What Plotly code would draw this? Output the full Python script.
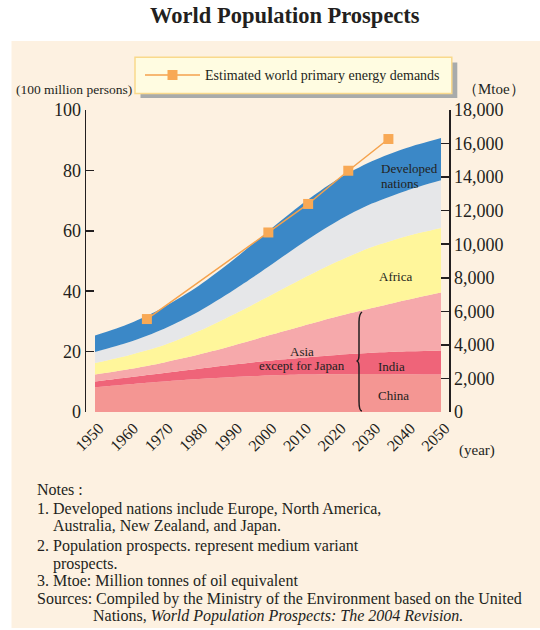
import plotly.graph_objects as go

# ---------------- data ----------------
years = [1950, 1960, 1970, 1980, 1990, 2000, 2010, 2020, 2030, 2040, 2050]
year_labels = [str(y) for y in years]
# population, 100 million persons (stacked from bottom)
china = [8.2, 9.2, 10.1, 10.9, 11.6, 12.1, 12.4, 12.5, 12.6, 12.5, 12.4]
india = [1.9, 2.3, 2.8, 3.4, 4.1, 4.9, 5.6, 6.4, 7.0, 7.6, 8.0]
asia_ex_japan = [2.3, 2.7, 3.5, 4.7, 6.3, 8.3, 10.5, 12.7, 14.8, 17.0, 19.2]
africa = [3.8, 4.7, 5.8, 7.8, 10.3, 12.9, 15.7, 18.2, 20.2, 21.1, 21.3]
other_regions = [3.7, 4.3, 5.4, 6.5, 8.0, 9.8, 11.8, 13.4, 14.4, 15.1, 15.8]
developed = [5.4, 6.1, 7.2, 8.5, 10.1, 11.8, 13.0, 13.8, 14.0, 14.1, 14.0]

# estimated world primary energy demands (Mtoe), positions as drawn
energy_years = [1965.0, 2000.1, 2011.6, 2023.2, 2034.8]
energy_mtoe = [5540, 10700, 12400, 14380, 16270]

left_ticks = [0, 20, 40, 60, 80, 100]
right_ticks = [0, 2000, 4000, 6000, 8000, 10000, 12000, 14000, 16000, 18000]

# ---------------- styling ----------------
SERIF = "Liberation Serif, Times New Roman, serif"
INK = "#231f20"
W, H = 540, 630
ML, MR, MT, MB = 86, 91, 110, 218
PW, PH = W - ML - MR, H - MT - MB


def xp(px):
    return (px - ML) / PW


def yp(py):
    return (H - MB - py) / PH


fig = go.Figure()

bands = [
    ("China", china, "#F49693"),
    ("India", india, "#EF6479"),
    ("Asia except for Japan", asia_ex_japan, "#F6A9AB"),
    ("Africa", africa, "#FFF69B"),
    ("Other regions", other_regions, "#E6E7E9"),
    ("Developed nations", developed, "#3B88C7"),
]
for name, vals, col in bands:
    fig.add_trace(go.Scatter(
        x=years, y=vals, name=name, stackgroup="pop", mode="lines",
        line=dict(width=0, shape="spline", smoothing=0.8, color=col),
        fillcolor=col, showlegend=False, hoverinfo="skip"))

fig.add_trace(go.Scatter(
    x=energy_years, y=energy_mtoe, yaxis="y2", mode="lines+markers",
    name="Estimated world primary energy demands",
    line=dict(color="#F5A24C", width=1.5),
    marker=dict(symbol="square", size=10, color="#F8A955"),
    showlegend=True, hoverinfo="skip"))

axis_common = dict(showgrid=False, zeroline=False, ticks="inside", ticklen=8,
                   tickwidth=1.5, tickcolor=INK, showline=True, linewidth=1.5,
                   linecolor=INK, tickfont=dict(family=SERIF, size=18, color=INK))

fig.update_layout(
    width=W, height=H,
    margin=dict(l=ML, r=MR, t=MT, b=MB, pad=0),
    paper_bgcolor="white", plot_bgcolor="rgba(0,0,0,0)",
    hovermode=False,
    xaxis=dict(range=[1947.4, 2052.31], tickvals=years, ticktext=year_labels,
               tickangle=-45, showline=False, ticks="", showgrid=False,
               zeroline=False, ticklabelshift=4, ticklabelstandoff=3,
               tickfont=dict(family=SERIF, size=16, color=INK)),
    yaxis=dict(range=[0, 100], tickvals=left_ticks, **axis_common),
    yaxis2=dict(range=[0, 18000], tickvals=right_ticks, tickformat=",",
                overlaying="y", side="right", **axis_common),
    legend=dict(x=xp(140), y=yp(75.3), xanchor="left", yanchor="middle",
                bgcolor="rgba(0,0,0,0)", borderwidth=0, itemwidth=55,
                font=dict(family=SERIF, size=14, color=INK)),
    showlegend=True,
)

shapes = [
    # cream panel
    dict(type="rect", xref="paper", yref="paper", x0=xp(11.5), x1=xp(540),
         y0=yp(41), y1=yp(628), fillcolor="#FDF1E1", line=dict(width=0),
         layer="below"),
    # legend shadow and box
    dict(type="rect", xref="paper", yref="paper", x0=xp(140.5), x1=xp(457.3),
         y0=yp(97.9), y1=yp(62.4), fillcolor="#A8ABAB", line=dict(width=0),
         layer="above"),
    dict(type="rect", xref="paper", yref="paper", x0=xp(135), x1=xp(451.8),
         y0=yp(93.4), y1=yp(57.2), fillcolor="#FFFCE1",
         line=dict(width=1.5, color="#F9D98C"), layer="above"),
]
# curly brace grouping Asia / India / China
bx = [362, 359, 359, 359, 356.5, 359, 359, 359, 362]
by = [312, 314, 322, 355, 361, 367, 401, 409, 411]
path = (f"M {xp(bx[0])},{yp(by[0])} Q {xp(bx[1])},{yp(by[1])} {xp(bx[2])},{yp(by[2])} "
        f"L {xp(bx[3])},{yp(by[3])} Q {xp(bx[3])},{yp(by[4])} {xp(bx[4])},{yp(by[4])} "
        f"Q {xp(bx[5])},{yp(by[4])} {xp(bx[5])},{yp(by[5])} "
        f"L {xp(bx[6])},{yp(by[6])} Q {xp(bx[7])},{yp(by[8])} {xp(bx[8])},{yp(by[8])}")
shapes.append(dict(type="path", xref="paper", yref="paper", path=path,
                   line=dict(color=INK, width=1.5)))
fig.update_layout(shapes=shapes)


def note(text, px, py, size=15, xanchor="left"):
    fig.add_annotation(text=text, xref="paper", yref="paper", x=xp(px), y=yp(py),
                       xanchor=xanchor, yanchor="middle", showarrow=False,
                       align="left",
                       font=dict(family=SERIF, size=size, color=INK))


# title
note("<b>World Population Prospects</b>", 284.7, 16, size=22.5, xanchor="center")
# axis captions
note("(100 million persons)", 13.8, 89, size=13.5)
note("（Mtoe）", 494, 89, size=15, xanchor="center")
note("(year)", 456.7, 450, size=15)
# band labels
note("Developed", 378.7, 168.3, size=13)
note("nations", 378.7, 183.5, size=13)
note("Africa", 376.7, 276, size=13)
note("Asia", 301.7, 351, size=13, xanchor="center")
note("except for Japan", 302, 365, size=13, xanchor="center")
note("India", 376, 366, size=13)
note("China", 376, 395.7, size=13)
# notes
notes = [
    ("Notes :", 35, 489),
    ("1. Developed nations include Europe, North America,", 35, 509),
    ("Australia, New Zealand, and Japan.", 51, 526.3),
    ("2. Population prospects. represent medium variant", 35, 546.2),
    ("prospects.", 51, 563.5),
    ("3. Mtoe: Million tonnes of oil equivalent", 35, 580.5),
    ("Sources: Compiled by the Ministry of the Environment based on the United", 35, 598.5),
    ("Nations, <i>World Population Prospects: The 2004 Revision.</i>", 90.6, 615.5),
]
for t, x0, y0 in notes:
    note(t, x0, y0, size=16)

fig.write_html("out.html", config={"displayModeBar": False, "staticPlot": True},
               post_script="document.body.style.margin='0';")
